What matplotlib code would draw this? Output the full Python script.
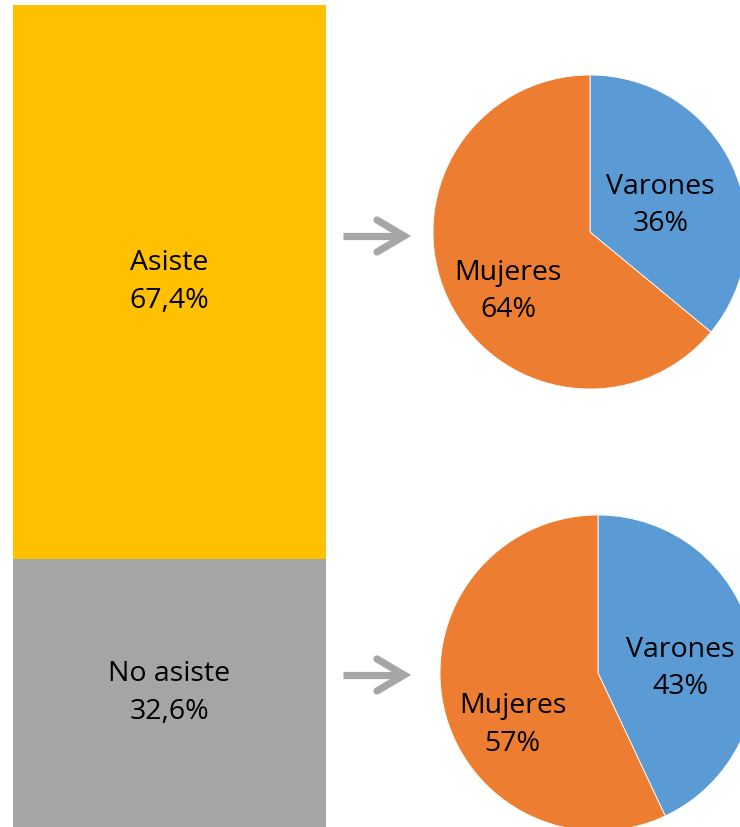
import matplotlib
matplotlib.use("Agg")
import matplotlib.pyplot as plt

# ---- data ----
bar_labels = ["No asiste", "Asiste"]
bar_values = [32.6, 67.4]
bar_text = ["32,6%", "67,4%"]
pie_labels = ["Varones", "Mujeres"]
pie_top = [36, 64]      # Asiste
pie_bottom = [43, 57]   # No asiste

C_YELLOW = "#FFC000"
C_GRAY = "#A5A5A5"
C_BLUE = "#5B9BD5"
C_ORANGE = "#ED7D31"
C_ARROW = "#A6A6A6"
FONT = "Open Sans"
FS = 20.5
LS = 1.45

W, H = 740, 827
fig = plt.figure(figsize=(W / 100, H / 100), dpi=100)

def px_axes(left, top, width, height):
    return fig.add_axes([left / W, 1 - (top + height) / H, width / W, height / H])

# ---- stacked bar ----
axb = px_axes(13, 5, 313, 822)
bottom = 0
colors = [C_GRAY, C_YELLOW]
for lab, val, txt, col in zip(bar_labels, bar_values, bar_text, colors):
    axb.bar(0, val, bottom=bottom, width=1, color=col, linewidth=0)
    axb.text(0, bottom + val / 2, f"{lab}\n{txt}", ha="center", va="center",
             fontsize=FS, family=FONT, color="black", linespacing=LS)
    bottom += val
axb.set_xlim(-0.5, 0.5)
axb.set_ylim(0, sum(bar_values))
axb.axis("off")

# ---- pies ----
def draw_pie(cx, cy, r, values, label_pos):
    ax = px_axes(cx - r, cy - r, 2 * r, 2 * r)
    wedges, _ = ax.pie(values, colors=[C_BLUE, C_ORANGE], startangle=90,
                       counterclock=False, radius=1,
                       wedgeprops=dict(linewidth=0.6, edgecolor="white"))
    for lab, val, (x, y) in zip(pie_labels, values, label_pos):
        ax.text(x, y, f"{lab}\n{val}%", ha="center", va="center",
                fontsize=FS, family=FONT, color="black", linespacing=LS)
    ax.set_xlim(-1, 1)
    ax.set_ylim(-1, 1)
    ax.set_aspect("equal")
    ax.axis("off")

draw_pie(590, 232, 157, pie_top, [(0.45, 0.17), (-0.52, -0.38)])
draw_pie(598, 673, 158, pie_bottom, [(0.52, 0.03), (-0.54, -0.33)])

# ---- arrows (decoration) ----
ov = fig.add_axes([0, 0, 1, 1])
ov.set_xlim(0, W)
ov.set_ylim(H, 0)
ov.axis("off")
ov.patch.set_alpha(0)
for yc in (236, 675):
    ov.plot([343, 400], [yc, yc], color=C_ARROW, lw=5.2, solid_capstyle="butt")
    ov.plot([377, 404, 377], [yc - 16, yc, yc + 16], color=C_ARROW, lw=5.2,
            solid_capstyle="round", solid_joinstyle="miter")

fig.savefig("out.png", dpi=100)
